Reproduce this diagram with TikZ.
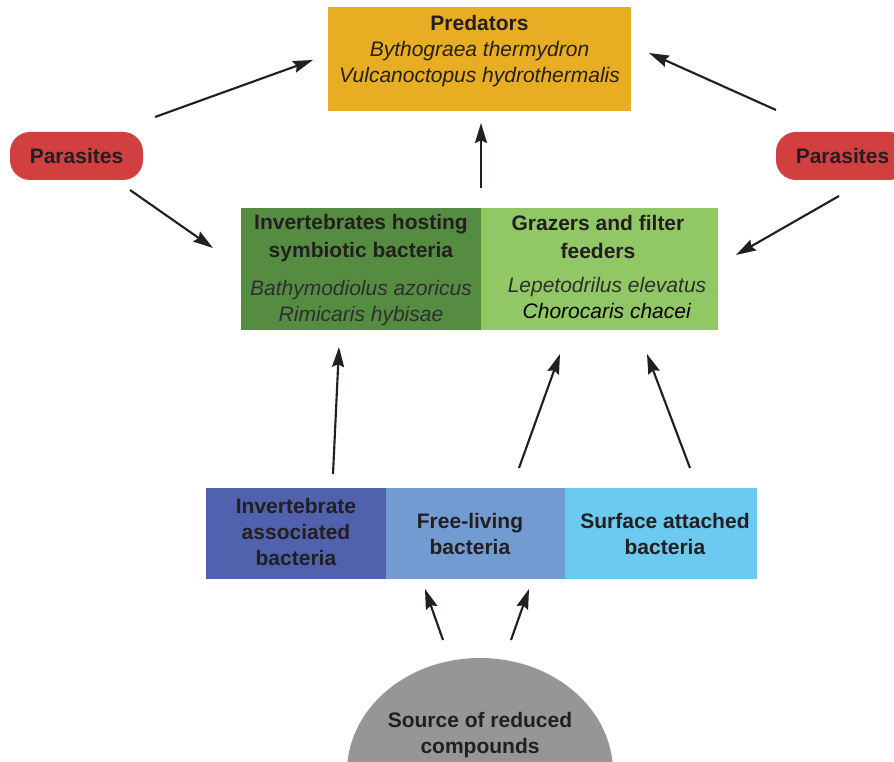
\documentclass[tikz,border=0pt]{standalone}
\usepackage{fontspec}
\setmainfont{Liberation Sans}
\usetikzlibrary{arrows.meta,shapes.geometric}
\definecolor{predc}{HTML}{E8AD22}
\definecolor{parc}{HTML}{D23F3F}
\definecolor{dgreen}{HTML}{568C42}
\definecolor{lgreen}{HTML}{91C865}
\definecolor{bdark}{HTML}{5061AE}
\definecolor{bmid}{HTML}{729BD2}
\definecolor{blight}{HTML}{6CC9EF}
\definecolor{srcc}{HTML}{969696}
\definecolor{inkc}{HTML}{231F20}
\definecolor{itc}{HTML}{2E2E2E}
\begin{document}
\begin{tikzpicture}[x=0.75pt,y=-0.75pt,
  blk/.style={draw=none,inner sep=0pt,outer sep=0pt,rectangle},
  txt/.style={inner sep=0pt,align=center,text=inkc,font=\fontsize{15.75}{19.5}\selectfont},
  txtw/.style={inner sep=0pt,align=center,text=inkc,font=\fontsize{15.75}{21}\selectfont},
  arr/.style={draw=inkc,line width=1.6pt,-{Stealth[length=15pt,width=9pt,inset=2pt]}}]
\useasboundingbox (0,0) rectangle (894,762);
% source ellipse
\node[ellipse,fill=srcc,draw=none,inner sep=0pt,minimum width=199.5pt,minimum height=171pt] (src) at (480,772) {};
\node[txt] (srct) at (480,735) {\textbf{Source of reduced}\\\textbf{compounds}};
% predators
\node[blk,fill=predc,minimum width=227.25pt,minimum height=78pt] (pred) at (479.5,59) {};
\node[txt,font=\fontsize{15.75}{19.3}\selectfont] (predt) at (479.5,51) {\textbf{Predators}\\\textit{Bythograea thermydron}\\\textit{Vulcanoctopus hydrothermalis}};
% parasites
\node[blk,fill=parc,rounded corners=15pt,minimum width=99.75pt,minimum height=36pt,text=inkc,font=\fontsize{15.75}{19.5}\selectfont\bfseries] (par1) at (76.5,156) {Parasites};
\node[blk,fill=parc,rounded corners=15pt,minimum width=99.75pt,minimum height=36pt,text=inkc,font=\fontsize{15.75}{19.5}\selectfont\bfseries] (par2) at (842.5,156) {Parasites};
% green boxes
\node[blk,fill=dgreen,minimum width=180pt,minimum height=91.5pt] (gL) at (361,269) {};
\node[blk,fill=lgreen,minimum width=177.75pt,minimum height=91.5pt] (gR) at (599.5,269) {};
\node[txtw] (gLt1) at (361,238) {\textbf{Invertebrates hosting}\\\textbf{symbiotic bacteria}};
\node[txt,text=itc] (gLt2) at (361,303.5) {\textit{Bathymodiolus azoricus}\\\textit{Rimicaris hybisae}};
\node[txtw] (gRt1) at (598,237) {\textbf{Grazers and filter}\\\textbf{feeders}};
\node[txt] (gRt2) at (607,298) {\textcolor{itc}{\textit{Lepetodrilus elevatus}}\\\textcolor{black}{\textit{Chorocaris chacei}}};
% bacteria
\node[blk,fill=bdark,minimum width=135pt,minimum height=68.25pt] (b1) at (296,533.5) {};
\node[blk,fill=bmid,minimum width=134.25pt,minimum height=68.25pt] (b2) at (475.5,533.5) {};
\node[blk,fill=blight,minimum width=144pt,minimum height=68.25pt] (b3) at (661,533.5) {};
\node[txt] (b1t) at (296,531.5) {\textbf{Invertebrate}\\\textbf{associated}\\\textbf{bacteria}};
\node[txt] (b2t) at (470,534) {\textbf{Free-living}\\\textbf{bacteria}};
\node[txt] (b3t) at (665,534) {\textbf{Surface attached}\\\textbf{bacteria}};
% connector ends
\coordinate (a1s) at (155,117); \coordinate (a1e) at (313,60);
\coordinate (a2s) at (776,110); \coordinate (a2e) at (649,53);
\coordinate (a3s) at (481,188); \coordinate (a3e) at (481,123);
\coordinate (a4s) at (130,190); \coordinate (a4e) at (213,248);
\coordinate (a5s) at (839,196); \coordinate (a5e) at (736,255);
\coordinate (a6s) at (333,474); \coordinate (a6e) at (339,347);
\coordinate (a7s) at (519,468); \coordinate (a7e) at (560,354);
\coordinate (a8s) at (690,468); \coordinate (a8e) at (647,354);
\coordinate (a9s) at (443,640); \coordinate (a9e) at (425,589);
\coordinate (a10s) at (511,640); \coordinate (a10e) at (529,589);
\draw[arr] (a1s) -- (a1e);
\draw[arr] (a2s) -- (a2e);
\draw[arr] (a3s) -- (a3e);
\draw[arr] (a4s) -- (a4e);
\draw[arr] (a5s) -- (a5e);
\draw[arr] (a6s) -- (a6e);
\draw[arr] (a7s) -- (a7e);
\draw[arr] (a8s) -- (a8e);
\draw[arr] (a9s) -- (a9e);
\draw[arr] (a10s) -- (a10e);
\end{tikzpicture}
\end{document}
